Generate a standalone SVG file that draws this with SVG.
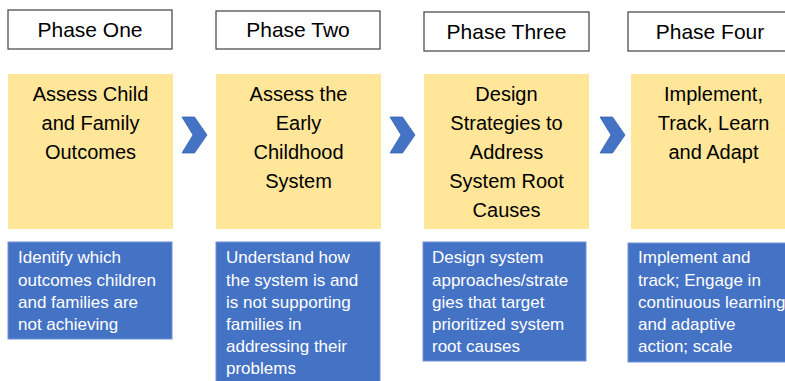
<svg xmlns="http://www.w3.org/2000/svg" width="785" height="381" viewBox="0 0 785 381">
<style>
.hdr{fill:#fff;stroke:#404040;stroke-width:1.2}
.ht{font-family:"Liberation Sans",Arial,sans-serif;font-size:21px;fill:#000;text-anchor:middle}
.yel{fill:#FFE699}
.yt{font-family:"Liberation Sans",Arial,sans-serif;font-size:20px;fill:#000;text-anchor:middle}
.blu{fill:#4472C4;stroke:#6E93D6;stroke-width:1}
.bt{font-family:"Liberation Sans",Arial,sans-serif;font-size:17px;fill:#fff}
.chev{fill:#4472C4;stroke:#3A64B0;stroke-width:0.8}
</style>
<rect width="785" height="381" fill="#fff"/>
<g id="phase1">
<rect class="hdr" x="8" y="10" width="164" height="39"/>
<text class="ht" x="90" y="37">Phase One</text>
<rect class="yel" x="8" y="74" width="165" height="155"/>
<text class="yt" x="90.5" y="101">Assess Child</text>
<text class="yt" x="90.5" y="130">and Family</text>
<text class="yt" x="90.5" y="159">Outcomes</text>
<rect class="blu" x="8" y="242" width="164" height="97"/>
<text class="bt" x="18" y="263">Identify which</text>
<text class="bt" x="18" y="286">outcomes children</text>
<text class="bt" x="18" y="308">and families are</text>
<text class="bt" x="18" y="330">not achieving</text>
</g>
<g id="phase2">
<rect class="hdr" x="216" y="11" width="164" height="38"/>
<text class="ht" x="298" y="37">Phase Two</text>
<rect class="yel" x="216" y="74" width="165" height="155"/>
<text class="yt" x="298.5" y="101">Assess the</text>
<text class="yt" x="298.5" y="130">Early</text>
<text class="yt" x="298.5" y="159">Childhood</text>
<text class="yt" x="298.5" y="188">System</text>
<rect class="blu" x="216" y="242" width="164" height="142"/>
<text class="bt" x="226" y="263">Understand how</text>
<text class="bt" x="226" y="286">the system is and</text>
<text class="bt" x="226" y="308">is not supporting</text>
<text class="bt" x="226" y="330">families in</text>
<text class="bt" x="226" y="352">addressing their</text>
<text class="bt" x="226" y="374">problems</text>
</g>
<g id="phase3">
<rect class="hdr" x="424" y="12" width="165" height="39"/>
<text class="ht" x="506.5" y="39">Phase Three</text>
<rect class="yel" x="424" y="74" width="165" height="155"/>
<text class="yt" x="506.5" y="101">Design</text>
<text class="yt" x="506.5" y="130">Strategies to</text>
<text class="yt" x="506.5" y="159">Address</text>
<text class="yt" x="506.5" y="188">System Root</text>
<text class="yt" x="506.5" y="217">Causes</text>
<rect class="blu" x="423" y="242" width="163" height="119"/>
<text class="bt" x="432" y="263">Design system</text>
<text class="bt" x="432" y="286">approaches/strate</text>
<text class="bt" x="432" y="308">gies that target</text>
<text class="bt" x="432" y="330">prioritized system</text>
<text class="bt" x="432" y="352">root causes</text>
</g>
<g id="phase4">
<rect class="hdr" x="628" y="12" width="165" height="39"/>
<text class="ht" x="710" y="39">Phase Four</text>
<rect class="yel" x="631" y="74" width="165" height="155"/>
<text class="yt" x="713.5" y="101">Implement,</text>
<text class="yt" x="713.5" y="130">Track, Learn</text>
<text class="yt" x="713.5" y="159">and Adapt</text>
<rect class="blu" x="628" y="243" width="165" height="119"/>
<text class="bt" x="638" y="263">Implement and</text>
<text class="bt" x="638" y="286">track; Engage in</text>
<text class="bt" x="638" y="308">continuous learning</text>
<text class="bt" x="638" y="330">and adaptive</text>
<text class="bt" x="638" y="352">action; scale</text>
</g>
<g id="connectors">
<polygon class="chev" points="182,117 194.5,117 207,135 194.5,153 182,153 193,135"/>
<polygon class="chev" points="390,117 402.5,117 415,135 402.5,153 390,153 401,135"/>
<polygon class="chev" points="600,117 612.5,117 625,135 612.5,153 600,153 611,135"/>
</g>
</svg>
